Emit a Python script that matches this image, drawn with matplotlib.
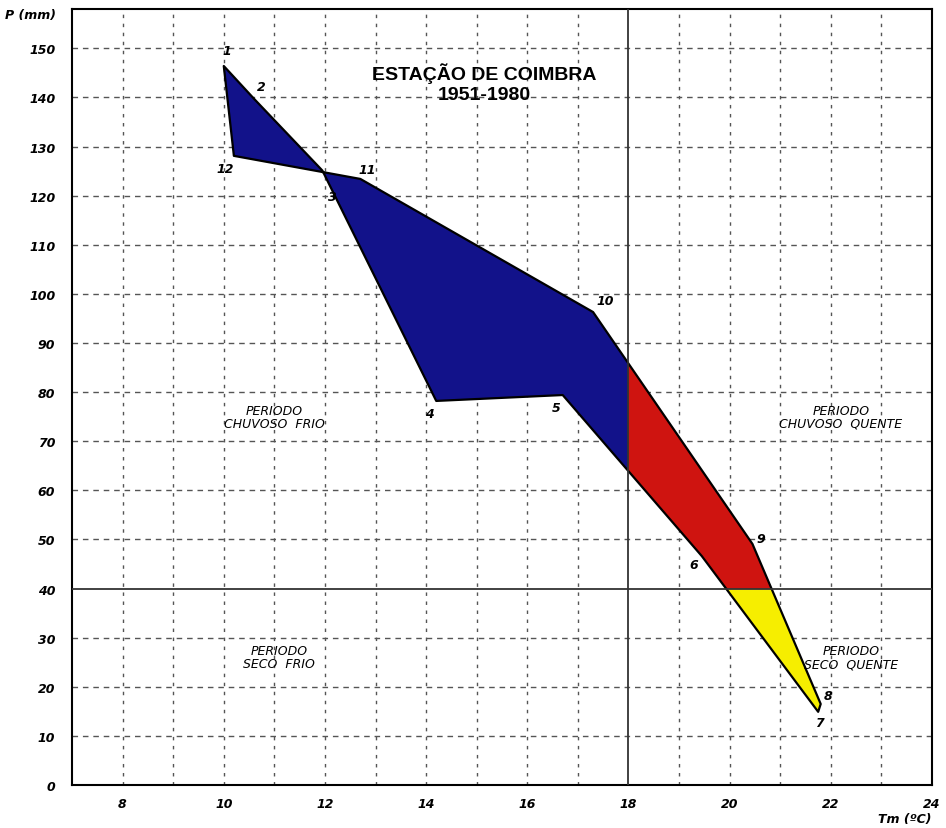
import numpy as np
import matplotlib
matplotlib.use('Agg')
import matplotlib.pyplot as plt
from matplotlib.patches import Polygon, Rectangle

# monthly mean temperature (ºC) and precipitation (mm), Coimbra 1951-1980
months = ['1', '2', '3', '4', '5', '6', '7', '8', '9', '10', '11', '12']
tm = [10.0, 10.6, 11.95, 14.2, 16.7, 19.45, 21.75, 21.8, 20.45, 17.3, 12.7, 10.2]
prec = [146.4, 139.7, 125.1, 78.2, 79.4, 46.6, 14.9, 16.5, 49.1, 96.3, 123.4, 128.1]

# label offsets in points for the month numbers
lab_dx = [2, 5, 7, -5, -5, -6, 1, 5, 6, 9, 5, -6]
lab_dy = [11, 9, -19, -9, -9, -6, -8, 6, 4, 8, 7, -9]

t_limit = 18
p_limit = 40
x_ticks = [8, 10, 12, 14, 16, 18, 20, 22, 24]
y_ticks = list(range(0, 160, 10))

fig = plt.figure(figsize=(9.46, 8.29), dpi=100)
ax = fig.add_axes([72 / 946, 1 - 786 / 829, 860 / 946, 776 / 829])
ax.set_xlim(7, 24)
ax.set_ylim(0, 158)

# dashed grid
for x in range(8, 24):
    if x != t_limit:
        ax.axvline(x, color='#555555', lw=1.0, ls=(0, (2.5, 4)), zorder=1)
for y in range(10, 160, 10):
    if y != p_limit:
        ax.axhline(y, color='#555555', lw=1.0, ls=(0, (4, 3.5)), zorder=1)

ax.axvline(t_limit, color='#333333', lw=1.3, zorder=4)
ax.axhline(p_limit, color='#333333', lw=1.3, zorder=4)

pts = np.column_stack([tm, prec])
zones = [
    ((7, p_limit), t_limit - 7, 200, '#12128a'),
    ((t_limit, p_limit), 24 - t_limit, 200, '#cf1410'),
    ((t_limit, 0), 24 - t_limit, p_limit, '#f6ee00'),
    ((7, 0), t_limit - 7, p_limit, '#f6ee00'),
]
for xy, w, h, col in zones:
    poly = Polygon(pts, closed=True, facecolor=col, edgecolor='none', zorder=2)
    ax.add_patch(poly)
    clip = Rectangle(xy, w, h, transform=ax.transData)
    poly.set_clip_path(clip)
ax.add_patch(Polygon(pts, closed=True, facecolor='none', edgecolor='black',
                     lw=1.6, joinstyle='round', zorder=3))

fnt = ['Liberation Sans Narrow', 'DejaVu Sans']
for m, x, y, dx, dy in zip(months, tm, prec, lab_dx, lab_dy):
    ax.annotate(m, (x, y), xytext=(dx, dy), textcoords='offset points',
                ha='center', va='center', fontsize=9, style='italic',
                fontweight='bold', family=fnt, zorder=5)

ax.text(15.15, 143.0, 'ESTAÇÃO DE COIMBRA\n1951-1980', ha='center', va='center',
        fontsize=14, fontweight='bold', family=['Liberation Sans', 'DejaVu Sans'],
        linespacing=1.3, zorder=5)

regions = [
    (11.0, 75, 'PERIODO\nCHUVOSO  FRIO'),
    (22.2, 75, 'PERIODO\nCHUVOSO  QUENTE'),
    (11.1, 26, 'PERIODO\nSECO  FRIO'),
    (22.4, 26, 'PERIODO\nSECO  QUENTE'),
]
for x, y, s in regions:
    ax.text(x, y, s, ha='center', va='center', fontsize=9, style='italic',
            family=fnt, linespacing=1.0, zorder=5)

ax.set_xticks(x_ticks)
ax.set_yticks(y_ticks)
ax.tick_params(length=0, labelsize=9)
ax.tick_params(axis='x', pad=9)
ax.tick_params(axis='y', pad=12)
for lab in ax.get_xticklabels() + ax.get_yticklabels():
    lab.set_fontstyle('italic')
    lab.set_fontweight('bold')
    lab.set_family(fnt)
for sp in ax.spines.values():
    sp.set_linewidth(1.5)

fig.text(30 / 946, 1 - 16 / 829, 'P (mm)', ha='center', va='center',
         fontsize=9, style='italic', fontweight='bold', family=fnt)
fig.text(905 / 946, 1 - 820 / 829, 'Tm (ºC)', ha='center', va='center',
         fontsize=9, style='italic', fontweight='bold', family=fnt)

fig.savefig('out.png', dpi=100)
